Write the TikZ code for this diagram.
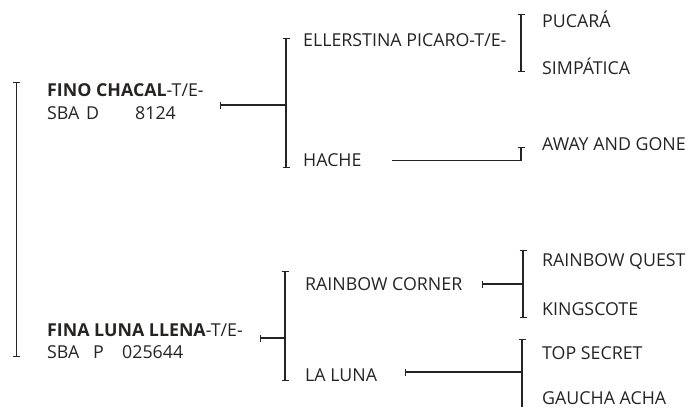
\documentclass[tikz,border=0pt]{standalone}
\usepackage{fontspec}
\setmainfont{Open Sans}
\usetikzlibrary{arrows.meta}
\definecolor{ink}{HTML}{252423}
\begin{document}
\begin{tikzpicture}[x=1pt,y=-1pt,
  lbl/.style={anchor=base west, inner sep=0pt, text=ink, font=\fontsize{17.8}{21}\selectfont},
  bracket/.style={draw=ink, line width=1.3pt, {Bar[width=7pt,line width=1.3pt]}-{Bar[width=7pt,line width=1.3pt]}},
  halfbracket/.style={draw=ink, line width=1.3pt, -{Bar[width=7pt,line width=1.3pt]}},
  link/.style={draw=ink, line width=1.3pt, {Bar[width=7pt,line width=1.3pt]}-}]
\useasboundingbox (0,0) rectangle (692,407);
% labels
\node[lbl] (fino)   at (47,96.5)  {\textbf{FINO CHACAL}-T/E-};
\node[lbl] (finoid) at (47,119.5) {\makebox[39pt][l]{SBA}\makebox[49pt][l]{D}8124};
\node[lbl] (fina)   at (47,336.5) {\textbf{FINA LUNA LLENA}-T/E-};
\node[lbl] (finaid) at (47,358.5) {\makebox[46pt][l]{SBA}\makebox[29pt][l]{P}025644};
\node[lbl] (eller)  at (303,46.5)  {ELLERSTINA PICARO-T/E-};
\node[lbl] (hache)  at (303,166.5) {HACHE};
\node[lbl] (rainc)  at (305,290.5) {RAINBOW CORNER};
\node[lbl] (laluna) at (305,381.5) {LA LUNA};
\node[lbl] (pucara) at (542,27.5)  {PUCARÁ};
\node[lbl] (simpa)  at (542,74.5)  {SIMPÁTICA};
\node[lbl] (away)   at (542,150.5) {AWAY AND GONE};
\node[lbl] (rainq)  at (542,266.5) {RAINBOW QUEST};
\node[lbl] (kings)  at (542,315.5) {KINGSCOTE};
\node[lbl] (tops)   at (542,359)   {TOP SECRET};
\node[lbl] (gaucha) at (542,404)   {GAUCHA ACHA};
% bracket coordinates
\coordinate (r1t) at (16.5,82);  \coordinate (r1b) at (16.5,357);
\coordinate (b1t) at (286,38);   \coordinate (b1b) at (286,168);
\coordinate (b2t) at (521,14);   \coordinate (b2b) at (521,72);
\coordinate (b3t) at (521,147);
\coordinate (b4t) at (285,271);  \coordinate (b4b) at (285,381);
\coordinate (b5t) at (523,250);  \coordinate (b5b) at (523,318);
\coordinate (b6t) at (522,339);  \coordinate (b6b) at (522,407);
% connector starts
\coordinate (finoT)  at (220,105);
\coordinate (hacheT) at (392,160.5);
\coordinate (finaT)  at (260,338);
\coordinate (raincT) at (482,284);
\coordinate (lunaT)  at (405,372);
% brackets
\draw[bracket] (r1t) -- (r1b);
\draw[bracket] (b1t) -- (b1b);
\draw[bracket] (b2t) -- (b2b);
\draw[bracket] (b4t) -- (b4b);
\draw[bracket] (b5t) -- (b5b);
\draw[halfbracket] (b6b) -- (b6t);
% connectors
\draw[link] (finoT) -- (finoT -| b1t);
\draw[link] (finaT) -- (finaT -| b4t);
\draw[link] (raincT) -- (raincT -| b5t);
\draw[link] (lunaT) -- (lunaT -| b6t);
\draw[link, -{Bar[width=7pt,line width=1.3pt]}] (hacheT) -- (hacheT -| b3t) -- (b3t);
\end{tikzpicture}
\end{document}
